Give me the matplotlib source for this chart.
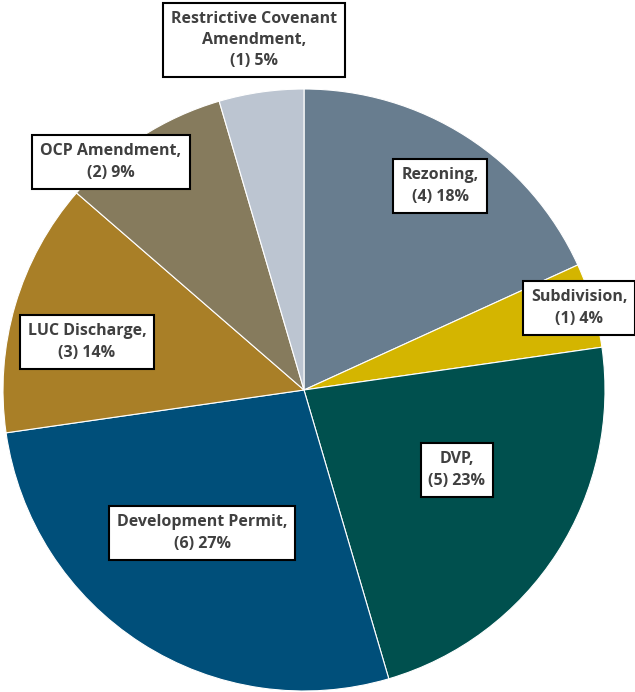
import matplotlib.pyplot as plt
from matplotlib import font_manager

categories = ['Rezoning', 'Subdivision', 'DVP', 'Development Permit',
              'LUC Discharge', 'OCP Amendment', 'Restrictive Covenant\nAmendment']
counts = [4, 1, 5, 6, 3, 2, 1]
pct_labels = ['18%', '4%', '23%', '27%', '14%', '9%', '5%']
colors = ['#687D8F', '#D4B500', '#00504E', '#004F7A', '#A97F27', '#867B5D', '#BCC5D1']

# label box centres in pixels of the 635x692 image
label_px = [(440, 186), (579, 308), (457, 470), (202, 533), (87, 342), (111, 162), (254, 40)]

names = [f.name for f in font_manager.fontManager.ttflist]
fam = 'Liberation Sans Narrow' if 'Liberation Sans Narrow' in names else 'Open Sans'

W, H = 635, 692
cx, cy, r = 304, 390, 301

fig = plt.figure(figsize=(W / 100, H / 100), dpi=100)
ax = fig.add_axes([0, 0, 1, 1])
ax.pie(counts, colors=colors, startangle=90, counterclock=False, radius=1,
       wedgeprops=dict(edgecolor='white', linewidth=0.8))
ax.set_xlim(-cx / r, (W - cx) / r)
ax.set_ylim(-(H - cy) / r, cy / r)
ax.set_aspect('equal')
ax.axis('off')

for name, n, p, (px, py) in zip(categories, counts, pct_labels, label_px):
    x = (px - cx) / r
    y = (cy - py) / r
    ax.text(x, y, f'{name},\n({n}) {p}', ha='center', va='center', fontsize=11.5,
            fontweight='bold', color='#404040', family=fam, linespacing=1.45,
            bbox=dict(boxstyle='square,pad=0.5', fc='white', ec='black', lw=1.5))

fig.savefig('out.png', dpi=100)
